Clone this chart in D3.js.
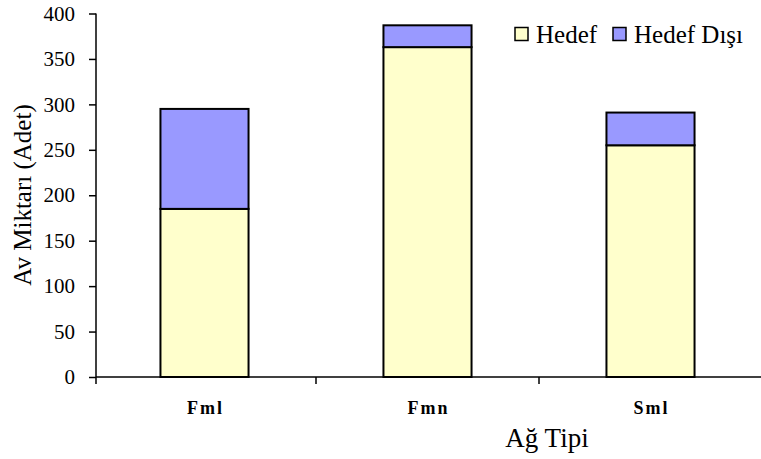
<!DOCTYPE html>
<html><head><meta charset="utf-8">
<script src="https://cdn.jsdelivr.net/npm/d3@7"></script>
<style>body{margin:0;background:#fff}svg{display:block}
svg text{font-family:"Liberation Serif","Times New Roman",Times,"DejaVu Serif",serif;fill:#000}</style>
</head><body>
<svg id="c" width="761" height="459"></svg>
<script>
const categories = ["Fml", "Fmn", "Sml"];
const hedef = [185, 363, 255];
const hedefDisi = [110, 24, 36];
const seriesNames = ["Hedef", "Hedef Dışı"];
const seriesColors = ["#FFFFCC", "#9999FF"];
const yTicks = [0, 50, 100, 150, 200, 250, 300, 350, 400];

const svg = d3.select("#c");
const x = d3.scaleBand().domain(categories).range([93, 762]).paddingInner(0.605).paddingOuter(0.3025);
const y = d3.scaleLinear().domain([0, 400]).range([377, 13.5]);

const rows = categories.map((c, i) => ({cat: c, Hedef: hedef[i], "Hedef Dışı": hedefDisi[i]}));
const stack = d3.stack().keys(seriesNames)(rows);

stack.forEach((s, si) => {
  svg.append("g").selectAll("rect").data(s).join("rect")
    .attr("x", d => x(d.data.cat))
    .attr("width", x.bandwidth())
    .attr("y", d => y(d[1]))
    .attr("height", d => y(d[0]) - y(d[1]))
    .attr("fill", seriesColors[si])
    .attr("stroke", "#000")
    .attr("stroke-width", 2);
});

// y axis
const ya = svg.append("g").attr("transform", "translate(96,0)")
  .call(d3.axisLeft(y).tickValues(yTicks).tickSize(7).tickPadding(14));
ya.attr("font-family", null);
ya.select(".domain").attr("stroke", "#000").attr("stroke-width", 1.5).attr("d", `M0,${y(400)}V${y(0)+7}`);
ya.selectAll(".tick line").attr("stroke", "#000").attr("stroke-width", 1.5);
ya.selectAll(".tick text").style("font-size", "21px");

// x axis
const step = x.step();
const bounds = [1, 2].map(k => x(categories[k]) - (step - x.bandwidth()) / 2);
const xa = svg.append("g");
xa.append("line").attr("x1", 96).attr("x2", 761).attr("y1", y(0)).attr("y2", y(0))
  .attr("stroke", "#000").attr("stroke-width", 1.5);
xa.selectAll("line.t").data(bounds).join("line").attr("class", "t")
  .attr("x1", d => d).attr("x2", d => d).attr("y1", y(0)).attr("y2", y(0) + 7)
  .attr("stroke", "#000").attr("stroke-width", 1.5);
xa.selectAll("text").data(categories).join("text")
  .attr("x", d => x(d) + x.bandwidth() / 2 + 1).attr("y", 414)
  .attr("text-anchor", "middle").style("font-weight", "bold")
  .style("font-size", "18px").attr("letter-spacing", 2).text(d => d);

// titles
svg.append("text").attr("x", 547).attr("y", 447).attr("text-anchor", "middle")
  .style("font-size", "27px").text("Ağ Tipi");
svg.append("text").attr("transform", "translate(31,195) rotate(-90)").attr("text-anchor", "middle")
  .style("font-size", "25px").text("Av Miktarı (Adet)");

// legend
const lg = svg.append("g");
const lx = [515, 613];
seriesNames.forEach((n, i) => {
  lg.append("rect").attr("x", lx[i]).attr("y", 27.5).attr("width", 13).attr("height", 13)
    .attr("fill", seriesColors[i]).attr("stroke", "#000").attr("stroke-width", 1.5);
  lg.append("text").attr("x", lx[i] + 21).attr("y", 42.5)
    .style("font-size", "25px").text(n);
});
</script>
</body></html>
